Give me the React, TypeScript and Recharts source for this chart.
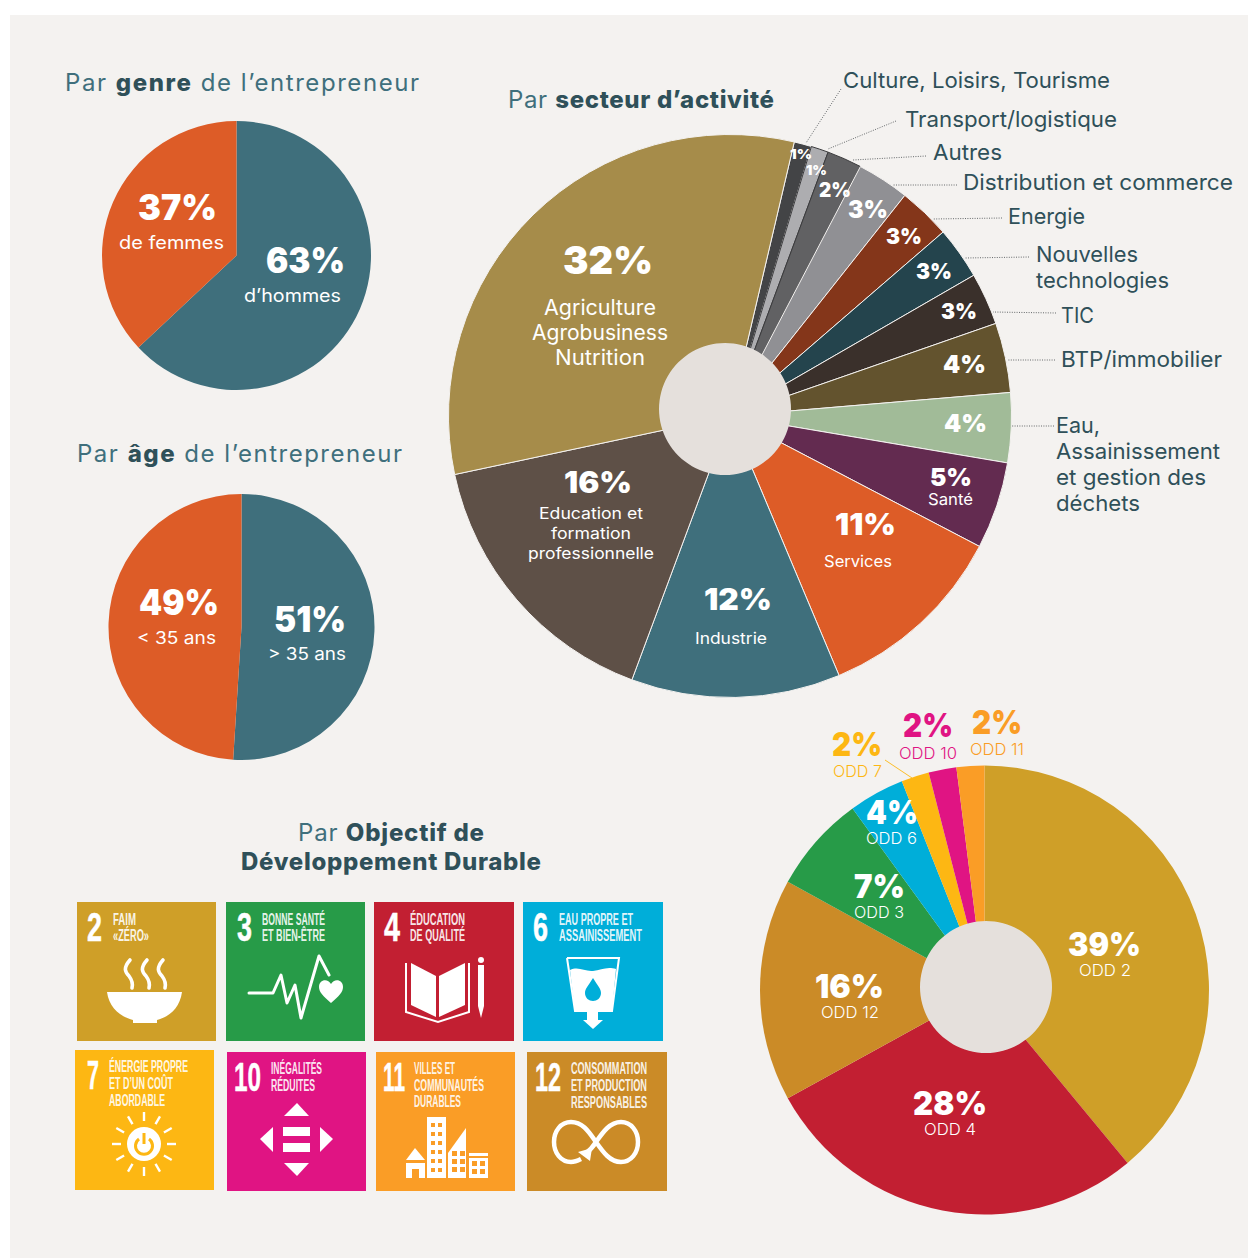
import { Cell, Pie, PieChart } from "recharts"

const FONT = "Inter, 'Open Sans', sans-serif"
const NARROW = "'Liberation Sans Narrow', 'Liberation Sans', sans-serif"
const PANEL = "#f4f2f0"
const HOLE = "#e5e0dc"
const TEAL = "#3f6f7c"
const INK = "#2f5059"
const ORANGE = "#dd5c27"

// gender split
const genderValues = [63, 37]
const genderNames = ["d’hommes", "de femmes"]
const genderColors = [TEAL, ORANGE]

// age split
const ageValues = [51, 49]
const ageNames = ["> 35 ans", "< 35 ans"]
const ageColors = [TEAL, ORANGE]

// sectors, clockwise from the small "Culture" slice
const sectorValues = [1, 1, 2, 3, 3, 3, 3, 4, 4, 5, 11, 12, 16, 32]
const sectorColors = [
  "#434446", "#adadb0", "#616163", "#909094", "#84361a", "#24444d", "#3a302b",
  "#63532e", "#a1bb98", "#632b50", ORANGE, TEAL, "#5e5047", "#a68c4a",
]
const sectorStrokes = [
  PANEL, "#3b3b3d", "#3b3b3d", PANEL, PANEL, PANEL, PANEL,
  PANEL, PANEL, PANEL, PANEL, PANEL, PANEL, PANEL,
]

// ODD goals, clockwise from the top
const oddValues = [39, 28, 16, 7, 4, 2, 2, 2]
const oddNames = ["ODD 2", "ODD 4", "ODD 12", "ODD 3", "ODD 6", "ODD 7", "ODD 10", "ODD 11"]
const oddColors = ["#cf9f28", "#c21f32", "#cb8b27", "#279b48", "#00aed9", "#fdb713", "#e01483", "#fa9d26"]

const holeValue = [{ value: 1 }]

const toRows = (values: number[]) => values.map((value) => ({ value }))

// [left, width, baseline, font size]
type Box = [number, number, number, number]

const genderPct: Box[] = [[266, 79, 273, 35], [138, 79, 220, 35]]
const genderSub: Box[] = [[244, 97, 302, 18], [119, 105, 249, 18]]
const agePct: Box[] = [[274, 72, 632, 35], [139, 80, 615, 35]]
const ageSub: Box[] = [[268, 78, 660, 17], [137, 79, 644, 17]]

const sectorPct: Box[] = [
  [790, 22, 159, 12.5], [806, 21, 175, 12.5], [819, 32, 196.5, 19.5], [848, 40, 217.5, 24],
  [886, 36, 243.5, 22], [916, 36, 278.5, 22], [941, 36, 318.5, 22], [943, 43, 372.5, 25],
  [944, 43, 431.5, 25], [930, 42, 485.5, 25], [835, 61, 535, 30], [704, 68, 610, 30],
  [564, 68, 493, 30], [563, 90, 274, 39],
]

// text inside the big slices
const sectorInner: [string, number, number, number, number][] = [
  ["Santé", 928, 45, 505, 16],
  ["Services", 824, 68, 567, 16],
  ["Industrie", 695, 72, 644, 16],
  ["Education et", 539, 104, 519, 16],
  ["formation", 551, 80, 539, 16],
  ["professionnelle", 528, 126, 559, 16],
  ["Agriculture", 544, 112, 315, 21],
  ["Agrobusiness", 532, 136, 340, 21],
  ["Nutrition", 555, 90, 365, 21],
]

// names around the sector pie
const sectorOuter: [string, number, number, number][] = [
  ["Culture, Loisirs, Tourisme", 843, 267, 87.7],
  ["Transport/logistique", 905, 212, 126.7],
  ["Autres", 933, 69, 159.7],
  ["Distribution et commerce", 963, 270, 189.7],
  ["Energie", 1008, 77, 223.7],
  ["Nouvelles", 1036, 102, 261.7],
  ["technologies", 1036, 133, 287.7],
  ["TIC", 1061, 33, 322.7],
  ["BTP/immobilier", 1061, 161, 366.7],
  ["Eau,", 1056, 44, 432.7],
  ["Assainissement", 1056, 164, 458.7],
  ["et gestion des", 1056, 150, 484.7],
  ["déchets", 1056, 84, 510.7],
]

const leaders = [
  [841, 89, 806, 143], [896, 121, 828, 149], [926, 156, 853, 160], [957, 185, 893, 185],
  [1002, 218, 933, 219], [1029, 257, 965, 258], [1056, 313, 993, 312], [1055, 360, 1007, 360],
  [1054, 426, 1011, 426],
]

const oddPct: Box[] = [
  [1068, 73, 956, 33], [913, 74, 1115, 33], [815, 69, 998, 33], [854, 51, 898, 33],
  [866, 52, 824, 33], [832, 50, 756, 33], [903, 50, 737, 33], [972, 50, 734, 33],
]
const oddSub: Box[] = [
  [1079, 52, 976, 16], [924, 52, 1135, 16], [821, 58, 1018, 16], [854, 50, 918, 16],
  [866, 51, 844, 16], [833, 49, 777, 16], [899, 58, 759, 16], [970, 54, 755, 16],
]
// labels sitting outside the pie take the slice colour
const oddOutside = [false, false, false, false, false, true, true, true]

function Txt({ box, weight = 400, fill = "#fff", children }: any) {
  const [x, w, y, size] = box
  return (
    <text
      x={x}
      y={y}
      fontSize={size}
      fontWeight={weight}
      fill={fill}
      fontFamily={FONT}
      textLength={w}
      lengthAdjust="spacingAndGlyphs"
    >
      {children}
    </text>
  )
}

function Heading({ x, w, y, parts }: { x: number; w: number; y: number; parts: [string, boolean][] }) {
  return (
    <text x={x} y={y + 0.7} fontSize={24} fill={TEAL} fontFamily={FONT} textLength={w} lengthAdjust="spacing" xmlSpace="preserve">
      {parts.map(([t, bold], i) => (
        <tspan key={i} fontWeight={bold ? 800 : 400} fill={bold ? INK : TEAL}>
          {t}
        </tspan>
      ))}
    </text>
  )
}

type Line = [string, number, number, number]

function Tile({ x, y, w, h, color, num, numX, numW, lines, children }: any) {
  return (
    <g transform={`translate(${x} ${y})`}>
      <rect width={w} height={h} fill={color} />
      <text
        x={numX}
        y={39}
        fontSize={40}
        fontWeight={700}
        fill="#fff"
        stroke="#fff"
        strokeWidth={0.5}
        fontFamily={NARROW}
        textLength={numW}
        lengthAdjust="spacingAndGlyphs"
      >
        {num}
      </text>
      {lines.map(([t, lx, lw, ly]: Line) => (
        <text
          key={t}
          x={lx}
          y={ly}
          fontSize={16}
          fontWeight={700}
          fill="#fff"
          fillOpacity={0.9}
          fontFamily={NARROW}
          textLength={lw}
          lengthAdjust="spacingAndGlyphs"
        >
          {t}
        </text>
      ))}
      {children}
    </g>
  )
}

function BowlIcon() {
  const steam = "C46 66 48 70 52 74 C55 78 56 82 55 86"
  return (
    <g>
      <path d="M30 90 H105 C103 106 92 115 80 118 V121 H56 V118 C44 115 32 106 30 90 Z" fill="#fff" />
      {[0, 17, 33].map((dx) => (
        <path key={dx} d={`M53 58 ${steam}`} transform={`translate(${dx} 0)`} fill="none" stroke="#fff" strokeWidth={3.6} strokeLinecap="round" />
      ))}
    </g>
  )
}

function PulseIcon() {
  return (
    <g>
      <polyline
        points="23,91 47,91 55,73 61,101 69,83 75,116 93,54 103,73"
        fill="none"
        stroke="#fff"
        strokeWidth={3}
        strokeLinejoin="round"
        strokeLinecap="round"
      />
      <path d="M105 101 C97 94 93 90 93 85 C93 77 102 76 105 82 C108 76 117 77 117 85 C117 90 113 94 105 101 Z" fill="#fff" />
    </g>
  )
}

function BookIcon() {
  return (
    <g>
      <polygon points="37,61 62,74 62,115 37,103" fill="#fff" />
      <polygon points="65,74 91,61 91,103 65,115" fill="#fff" />
      <polyline points="32,61 32,110 64,120 95,110 95,61" fill="none" stroke="#fff" strokeWidth={2} />
      <circle cx={107} cy={58} r={3} fill="#fff" />
      <polygon points="104,63 110,63 110,104 107,116 104,104" fill="#fff" />
    </g>
  )
}

function GlassIcon({ color }: { color: string }) {
  return (
    <g>
      <polyline points="44,56 96,56 89,109 52,109 44,56" fill="none" stroke="#fff" strokeWidth={2} />
      <path d="M47 68 C56 64 62 70 70 69 C78 68 84 64 93 67 L89 109 H52 Z" fill="#fff" />
      <path d="M70 76 C75 84 78 87 78 91 C78 96 74 99 70 99 C66 99 62 96 62 91 C62 87 65 84 70 76 Z" fill={color} />
      <rect x={64} y={109} width={11} height={9} fill="#fff" />
      <polygon points="60,118 80,118 70,127" fill="#fff" />
    </g>
  )
}

function SunIcon({ color }: { color: string }) {
  const rays = [0, 30, 60, 90, 120, 150, 180, 210, 240, 270, 300, 330]
  return (
    <g>
      {rays.map((a) => (
        <line key={a} x1={69} y1={71} x2={69} y2={62} stroke="#fff" strokeWidth={2.4} transform={`rotate(${a} 69 94)`} />
      ))}
      <circle cx={69} cy={94} r={17} fill="#fff" />
      <path d="M64 89 A8.5 8.5 0 1 0 74 89" fill="none" stroke={color} strokeWidth={3} />
      <line x1={69} y1={83} x2={69} y2={94} stroke={color} strokeWidth={3} />
    </g>
  )
}

function ArrowsIcon() {
  return (
    <g fill="#fff">
      <polygon points="57,64 70,51 82,64" />
      <polygon points="57,111 82,111 70,124" />
      <polygon points="46,75 46,100 33,87" />
      <polygon points="93,75 93,100 106,87" />
      <rect x={56} y={75} width={27} height={9} />
      <rect x={56} y={91} width={27} height={9} />
    </g>
  )
}

function CityIcon({ color }: { color: string }) {
  const cols = [55, 62]
  const rows = [71, 80, 89, 98, 107, 116]
  return (
    <g>
      <polygon points="30,108 39,96 49,108" fill="#fff" />
      <path d="M30 111 H49 V126 H43 V117 H36 V126 H30 Z" fill="#fff" />
      <rect x={51} y={65} width={19} height={61} fill="#fff" />
      {rows.flatMap((wy) => cols.map((wx) => <rect key={`${wx}-${wy}`} x={wx} y={wy} width={4} height={4} fill={color} />))}
      <polygon points="72,101 90,76 90,126 72,126" fill="#fff" />
      {[99, 107, 115].flatMap((wy) =>
        [76, 84].map((wx) => <rect key={`t${wx}-${wy}`} x={wx} y={wy} width={5} height={5} fill={color} />),
      )}
      <rect x={93} y={101} width={19} height={3} fill="#fff" />
      <rect x={93} y={106} width={19} height={20} fill="#fff" />
      {[109, 117].flatMap((wy) =>
        [96, 104].map((wx) => <rect key={`r${wx}-${wy}`} x={wx} y={wy} width={5} height={5} fill={color} />),
      )}
    </g>
  )
}

function LoopIcon() {
  return (
    <g>
      <path
        d="M44 70 C56 70 62 80 69 90 C76 100 83 110 94 110 C104 110 111 101 111 90 C111 79 104 70 94 70 C83 70 76 80 69 90 C66 95 62 99 58 102 M44 70 C34 70 27 79 27 90 C27 101 34 110 44 110 C47 110 50 109 54 107"
        fill="none"
        stroke="#fff"
        strokeWidth={4.5}
      />
      <polygon points="65,96 51,100 63,109" fill="#fff" />
    </g>
  )
}

export default function App() {
  return (
    <div style={{ position: "absolute", left: 0, top: 0, width: 1248, height: 1259, background: "#fff", overflow: "hidden" }}>
      <div style={{ position: "absolute", left: 10, top: 15, width: 1238, height: 1243, background: PANEL }} />

      <div style={{ position: "absolute", left: 0, top: 0 }}>
        <PieChart width={1248} height={1259} margin={{ top: 0, right: 0, bottom: 0, left: 0 }}>
          <Pie data={toRows(genderValues)} dataKey="value" cx={236.5} cy={255.5} outerRadius={134.5} startAngle={90} endAngle={-270} stroke="none" isAnimationActive={false}>
            {genderValues.map((_, i) => <Cell key={i} fill={genderColors[i]} />)}
          </Pie>
          <Pie data={toRows(ageValues)} dataKey="value" cx={241.5} cy={627} outerRadius={133} startAngle={90} endAngle={-270} stroke="none" isAnimationActive={false}>
            {ageValues.map((_, i) => <Cell key={i} fill={ageColors[i]} />)}
          </Pie>
          <Pie data={toRows(sectorValues)} dataKey="value" cx={730} cy={416} outerRadius={281.5} startAngle={76.8} endAngle={-283.2} isAnimationActive={false}>
            {sectorValues.map((_, i) => <Cell key={i} fill={sectorColors[i]} stroke={sectorStrokes[i]} strokeWidth={1} />)}
          </Pie>
          <Pie data={holeValue} dataKey="value" cx={725} cy={409} outerRadius={66} startAngle={90} endAngle={-270} stroke="none" fill={HOLE} isAnimationActive={false} />
          <Pie data={toRows(oddValues)} dataKey="value" cx={984.5} cy={990} outerRadius={224.5} startAngle={90} endAngle={-270} stroke="none" isAnimationActive={false}>
            {oddValues.map((_, i) => <Cell key={i} fill={oddColors[i]} />)}
          </Pie>
          <Pie data={holeValue} dataKey="value" cx={986} cy={987} outerRadius={66} startAngle={90} endAngle={-270} stroke="none" fill={HOLE} isAnimationActive={false} />
        </PieChart>
      </div>

      <svg width={1248} height={1259} style={{ position: "absolute", left: 0, top: 0, pointerEvents: "none" }}>
        <Heading x={65} w={354} y={90} parts={[["Par ", false], ["genre", true], [" de l’entrepreneur", false]]} />
        <Heading x={77} w={325} y={461} parts={[["Par ", false], ["âge", true], [" de l’entrepreneur", false]]} />
        <Heading x={508} w={266} y={107} parts={[["Par ", false], ["secteur d’activité", true]]} />
        <Heading x={298} w={186} y={840} parts={[["Par ", false], ["Objectif de", true]]} />
        <Heading x={241} w={300} y={869} parts={[["Développement Durable", true]]} />

        {genderValues.map((v, i) => (
          <g key={i}>
            <Txt box={genderPct[i]} weight={900}>{v}%</Txt>
            <Txt box={genderSub[i]}>{genderNames[i]}</Txt>
          </g>
        ))}
        {ageValues.map((v, i) => (
          <g key={i}>
            <Txt box={agePct[i]} weight={900}>{v}%</Txt>
            <Txt box={ageSub[i]}>{ageNames[i]}</Txt>
          </g>
        ))}

        {leaders.map(([x1, y1, x2, y2], i) => (
          <line key={i} x1={x1} y1={y1} x2={x2} y2={y2} stroke="#55595b" strokeWidth={0.9} strokeDasharray="1 1.4" />
        ))}
        {sectorValues.map((v, i) => (
          <Txt key={i} box={sectorPct[i]} weight={900}>{v}%</Txt>
        ))}
        {sectorInner.map(([t, x, w, y, size]) => (
          <Txt key={t} box={[x, w, y, size]}>{t}</Txt>
        ))}
        {sectorOuter.map(([t, x, w, y]) => (
          <Txt key={t} box={[x, w, y, 22]} fill={INK}>{t}</Txt>
        ))}

        <line x1={885} y1={760} x2={912} y2={778} stroke={oddColors[5]} strokeWidth={0.9} />
        {oddValues.map((v, i) => (
          <g key={i}>
            <Txt box={oddPct[i]} weight={900} fill={oddOutside[i] ? oddColors[i] : "#fff"}>{v}%</Txt>
            <Txt box={oddSub[i]} weight={300} fill={oddOutside[i] ? oddColors[i] : "#fff"}>{oddNames[i]}</Txt>
          </g>
        ))}

        <Tile x={77} y={902} w={139} h={139} color={oddColors[0]} num="2" numX={10} numW={15} lines={[["FAIM", 36, 23, 23], ["«ZÉRO»", 36, 36, 39]]}>
          <BowlIcon />
        </Tile>
        <Tile x={226} y={902} w={139} h={139} color={oddColors[3]} num="3" numX={11} numW={15} lines={[["BONNE SANTÉ", 36, 63, 23], ["ET BIEN-ÊTRE", 36, 63, 39]]}>
          <PulseIcon />
        </Tile>
        <Tile x={374} y={902} w={140} h={139} color={oddColors[1]} num="4" numX={10} numW={16} lines={[["ÉDUCATION", 36, 55, 23], ["DE QUALITÉ", 36, 55, 39]]}>
          <BookIcon />
        </Tile>
        <Tile x={523} y={902} w={140} h={139} color={oddColors[4]} num="6" numX={10} numW={15} lines={[["EAU PROPRE ET", 36, 74, 23], ["ASSAINISSEMENT", 36, 83, 39]]}>
          <GlassIcon color={oddColors[4]} />
        </Tile>
        <Tile x={75} y={1050} w={139} h={140} color={oddColors[5]} num="7" numX={12} numW={12} lines={[["ÉNERGIE PROPRE", 34, 79, 22], ["ET D’UN COÛT", 34, 64, 39], ["ABORDABLE", 34, 56, 56]]}>
          <SunIcon color={oddColors[5]} />
        </Tile>
        <Tile x={227} y={1052} w={139} h={139} color={oddColors[6]} num="10" numX={7} numW={27} lines={[["INÉGALITÉS", 44, 51, 22], ["RÉDUITES", 44, 44, 39]]}>
          <ArrowsIcon />
        </Tile>
        <Tile x={376} y={1052} w={139} h={139} color={oddColors[7]} num="11" numX={7} numW={22} lines={[["VILLES ET", 38, 41, 22], ["COMMUNAUTÉS", 38, 70, 39], ["DURABLES", 38, 47, 55]]}>
          <CityIcon color={oddColors[7]} />
        </Tile>
        <Tile x={527} y={1052} w={140} h={139} color={oddColors[2]} num="12" numX={8} numW={26} lines={[["CONSOMMATION", 44, 76, 22], ["ET PRODUCTION", 44, 76, 39], ["RESPONSABLES", 44, 76, 56]]}>
          <LoopIcon />
        </Tile>
      </svg>
    </div>
  )
}
